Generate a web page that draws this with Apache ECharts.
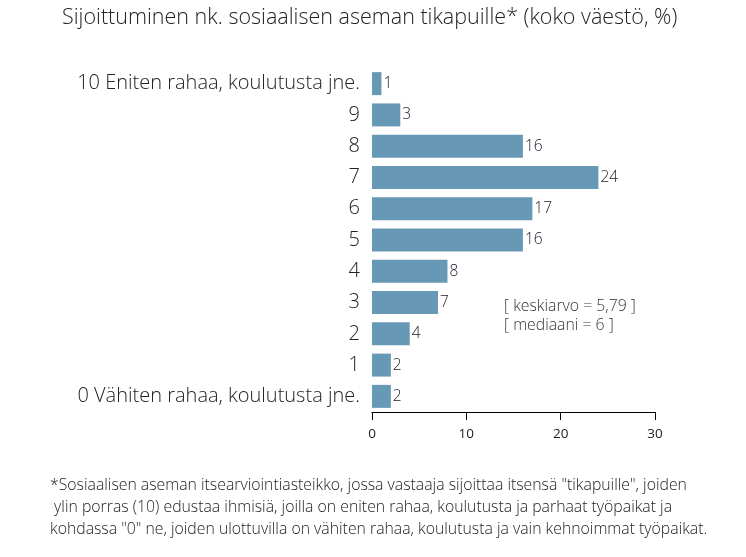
<!DOCTYPE html>
<html>
<head>
<meta charset="utf-8">
<script src="https://cdn.jsdelivr.net/npm/echarts@6/dist/echarts.min.js"></script>
<style>
html,body{margin:0;padding:0;background:#fff;}
#chart{width:746px;height:557px;}
</style>
</head>
<body>
<div id="chart"></div>
<script>
const categories = ['0 Vähiten rahaa, koulutusta jne.', '1', '2', '3', '4', '5', '6', '7', '8', '9', '10 Eniten rahaa, koulutusta jne.'];
const values = [2, 2, 4, 7, 8, 16, 17, 24, 16, 3, 1];
const xTicks = [0, 10, 20, 30];
const titleText = 'Sijoittuminen nk. sosiaalisen aseman tikapuille* (koko väestö, %)';
const statLines = ['[ keskiarvo = 5,79 ]', '[ mediaani = 6 ]'];
const footnoteLines = [
  '*Sosiaalisen aseman itsearviointiasteikko, jossa vastaaja sijoittaa itsensä "tikapuille", joiden',
  ' ylin porras (10) edustaa ihmisiä, joilla on eniten rahaa, koulutusta ja parhaat työpaikat ja',
  'kohdassa "0" ne, joiden ulottuvilla on vähiten rahaa, koulutusta ja vain kehnoimmat työpaikat.'
];

const FONT = '"Open Sans", "Noto Sans", sans-serif';
const chart = echarts.init(document.getElementById('chart'));
chart.setOption({
  backgroundColor: '#ffffff',
  animation: false,
  title: {
    text: titleText,
    left: 57,
    top: 2,
    textStyle: { fontFamily: FONT, fontWeight: 300, fontSize: 21.5, color: '#222' }
  },
  grid: { left: 372, right: 91, top: 68, bottom: 145, containLabel: false },
  xAxis: {
    type: 'value',
    min: xTicks[0],
    max: xTicks[xTicks.length - 1],
    interval: 10,
    axisLine: { show: true, lineStyle: { color: '#000', width: 1 } },
    axisTick: { show: true, length: 8, lineStyle: { color: '#000' } },
    splitLine: { show: false },
    axisLabel: { fontFamily: FONT, fontSize: 13.5, color: '#222', margin: 15 }
  },
  yAxis: {
    type: 'category',
    data: categories,
    axisLine: { show: false },
    axisTick: { show: false },
    axisLabel: { fontFamily: FONT, fontSize: 20, fontWeight: 300, color: '#222', margin: 12 }
  },
  series: [{
    type: 'bar',
    data: values,
    barWidth: 23,
    itemStyle: { color: '#6799B7' },
    label: {
      show: true,
      position: 'right',
      distance: 2,
      fontFamily: FONT,
      fontSize: 15.5,
      fontWeight: 300,
      color: '#1a1a2a'
    }
  }],
  graphic: [
    {
      type: 'text',
      left: 504,
      top: 297,
      style: { text: statLines.join('\n'), font: '300 15.8px ' + FONT, fill: '#333', lineHeight: 19 }
    },
    {
      type: 'text',
      left: 50,
      top: 474,
      style: { text: footnoteLines.join('\n'), font: '300 15.8px ' + FONT, fill: '#222', lineHeight: 22 }
    }
  ]
});
</script>
</body>
</html>
